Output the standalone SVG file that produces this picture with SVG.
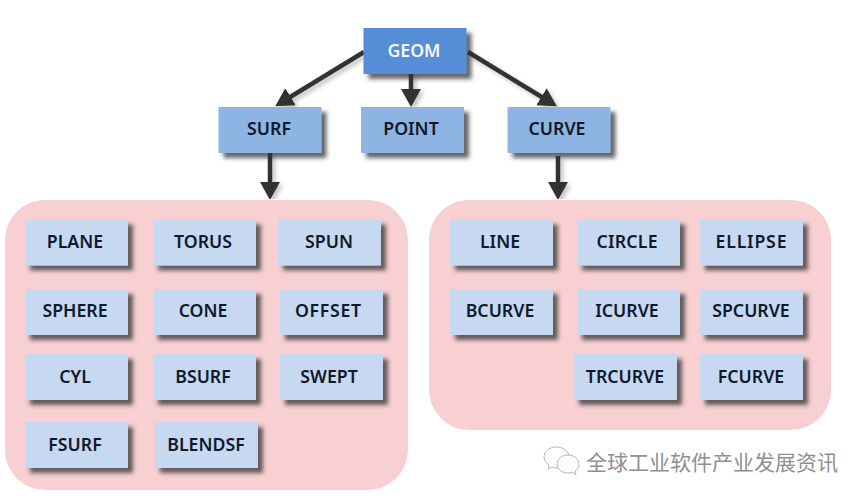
<svg xmlns="http://www.w3.org/2000/svg" width="865" height="500" viewBox="0 0 865 500">
<style>
.n rect{filter:url(#sh)}
.n text{font-family:"Noto Sans","Liberation Sans",sans-serif;font-weight:600;font-size:17.7px;text-anchor:middle;fill:#10182c}
.g rect{fill:#558ed5}
.g text{fill:#f4f8ff}
.m rect{fill:#8eb4e3}
.l rect{fill:#c6d9f1}
.p{fill:#f8d0d2}
#connectors{filter:url(#ls)}
#connectors line{stroke:#333;stroke-width:4.5;marker-end:url(#ah)}
.wm{font-family:"Noto Sans CJK SC",sans-serif;font-size:21px;fill:#8f8f8f;stroke:none}
.ic{fill:#fff;stroke:#b5b5b5;stroke-width:1}
</style>
<defs>
<filter id="sh" x="-10%" y="-15%" width="125%" height="140%"><feDropShadow dx="5" dy="5" stdDeviation="2" flood-color="#333" flood-opacity=".75"/></filter>
<filter id="ls" x="-5%" y="-5%" width="110%" height="110%"><feDropShadow dx="3" dy="3" stdDeviation="2" flood-color="#555" flood-opacity=".35"/></filter>
<marker id="ah" markerUnits="userSpaceOnUse" markerWidth="24" markerHeight="24" refX="10" refY="12" orient="auto"><path d="M0 2L18 12L0 22Z" fill="#333"/></marker>
</defs>
<rect width="865" height="500" fill="#fff"/>
<rect class="p" x="5" y="200" width="403" height="290" rx="40"/>
<rect class="p" x="429" y="200" width="402" height="230" rx="40"/>
<g id="connectors">
<line x1="364" y1="52" x2="282" y2="102"/>
<line x1="411" y1="74" x2="411" y2="99"/>
<line x1="468" y1="52" x2="550" y2="102"/>
<line x1="270" y1="153" x2="270" y2="192"/>
<line x1="558" y1="156" x2="558" y2="192"/>
</g>
<g id="geom" class="n g"><rect x="363.5" y="28" width="103" height="46"/><text x="414" y="57">GEOM</text></g>
<g id="surf" class="n m"><rect x="218.5" y="107" width="103" height="46"/><text x="269" y="135">SURF</text></g>
<g id="point" class="n m"><rect x="361" y="107" width="103" height="46"/><text x="411" y="135">POINT</text></g>
<g id="curve" class="n m"><rect x="507.5" y="107" width="103" height="46"/><text x="557" y="135">CURVE</text></g>
<g id="plane" class="n l"><rect x="25" y="219.5" width="103" height="46"/><text x="75" y="248">PLANE</text></g>
<g id="torus" class="n l"><rect x="153" y="219.5" width="103" height="46"/><text x="203" y="248">TORUS</text></g>
<g id="spun" class="n l"><rect x="278" y="219.5" width="103" height="46"/><text x="329" y="248">SPUN</text></g>
<g id="sphere" class="n l"><rect x="25" y="289" width="103" height="46"/><text x="75" y="317">SPHERE</text></g>
<g id="cone" class="n l"><rect x="153" y="289" width="103" height="46"/><text x="203" y="317">CONE</text></g>
<g id="offset" class="n l"><rect x="280" y="289" width="103" height="46"/><text x="328" y="317" textLength="66">OFFSET</text></g>
<g id="cyl" class="n l"><rect x="25" y="354" width="103" height="46"/><text x="75" y="383">CYL</text></g>
<g id="bsurf" class="n l"><rect x="153" y="354" width="103" height="46"/><text x="203" y="383">BSURF</text></g>
<g id="swept" class="n l"><rect x="280" y="354" width="103" height="46"/><text x="329" y="383">SWEPT</text></g>
<g id="fsurf" class="n l"><rect x="25" y="422" width="103" height="46"/><text x="75" y="451">FSURF</text></g>
<g id="blendsf" class="n l"><rect x="155" y="422" width="103" height="46"/><text x="206" y="451">BLENDSF</text></g>
<g id="line" class="n l"><rect x="450" y="219.5" width="103" height="46"/><text x="500" y="248">LINE</text></g>
<g id="circle" class="n l"><rect x="577" y="219.5" width="103" height="46"/><text x="627" y="248" textLength="61">CIRCLE</text></g>
<g id="ellipse" class="n l"><rect x="700" y="219.5" width="103" height="46"/><text x="751" y="248" textLength="71">ELLIPSE</text></g>
<g id="bcurve" class="n l"><rect x="450" y="289" width="103" height="46"/><text x="500" y="317">BCURVE</text></g>
<g id="icurve" class="n l"><rect x="577" y="289" width="103" height="46"/><text x="627" y="317">ICURVE</text></g>
<g id="spcurve" class="n l"><rect x="700" y="289" width="103" height="46"/><text x="751" y="317">SPCURVE</text></g>
<g id="trcurve" class="n l"><rect x="574" y="354" width="103" height="46"/><text x="625" y="383">TRCURVE</text></g>
<g id="fcurve" class="n l"><rect x="700" y="354" width="103" height="46"/><text x="751" y="383">FCURVE</text></g>
<g id="watermark">
<path class="ic" d="M556 447c-7 0-12 5-12 10 0 3 2 6 5 8l-1 4 4-2c2 1 3 1 5 1 7 0 12-5 12-11s-6-10-13-10z"/>
<path class="ic" d="M568 455c-6 0-11 4-11 9s5 9 11 9c1 0 3 0 4-1l4 3-1-4c3-2 4-4 4-7 0-5-5-9-11-9z"/>
<text class="wm" x="586" y="470" textLength="252">全球工业软件产业发展资讯</text>
</g>
</svg>
